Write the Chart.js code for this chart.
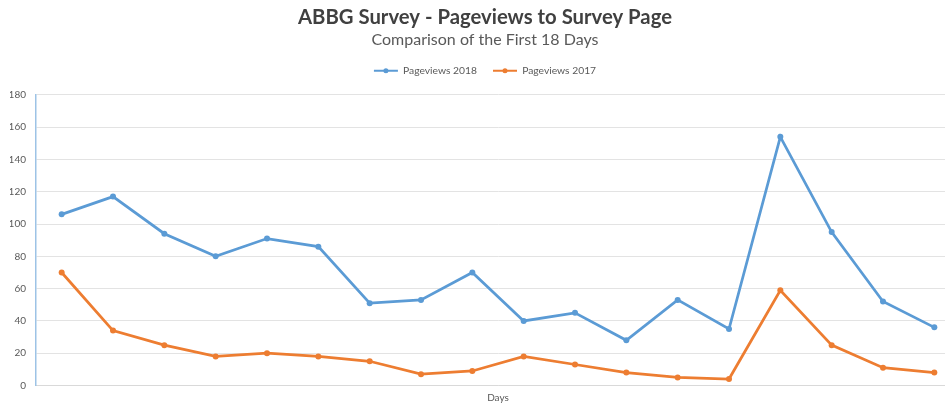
<!DOCTYPE html>
<html>
<head>
<meta charset="utf-8">
<script src="https://cdn.jsdelivr.net/npm/chart.js@4"></script>
<style>
html,body{margin:0;padding:0;background:#fff;overflow:hidden;width:945px;height:414px;}
#wrap{position:relative;width:970px;height:414px;}
</style>
</head>
<body>
<div id="wrap"><canvas id="c" width="970" height="414"></canvas></div>
<script>
const days = ["1","2","3","4","5","6","7","8","9","10","11","12","13","14","15","16","17","18"];
const pageviews2018 = [106,117,94,80,91,86,51,53,70,40,45,28,53,35,154,95,52,36];
const pageviews2017 = [70,34,25,18,20,18,15,7,9,18,13,8,5,4,59,25,11,8];
const titleText = "ABBG Survey - Pageviews to Survey Page";
const subtitleText = "Comparison of the First 18 Days";
const xTitle = "Days";

const FONT = "Lato, 'Open Sans', sans-serif";

const legendDots = {
  id: 'legendDots',
  beforeInit(chart) {
    const lg = chart.legend;
    if (!lg) return;
    const fit = lg.fit;
    lg.fit = function () { fit.call(this); this.height += 9; };
  },
  afterDraw(chart) {
    const lg = chart.legend;
    if (!lg || !lg.legendHitBoxes) return;
    const ctx = chart.ctx;
    lg.legendHitBoxes.forEach((hb, i) => {
      const ds = chart.data.datasets[i];
      const bw = lg.options.labels.boxWidth;
      const cx = hb.left + bw / 2;
      const cy = hb.top + hb.height / 2;
      ctx.save();
      ctx.fillStyle = ds.borderColor;
      ctx.beginPath();
      ctx.arc(cx, cy, 2.5, 0, Math.PI * 2);
      ctx.fill();
      ctx.restore();
    });
  }
};

new Chart(document.getElementById('c'), {
  type: 'line',
  data: {
    labels: days,
    datasets: [
      { label: 'Pageviews 2018', data: pageviews2018, borderColor: '#5B9BD5', backgroundColor: '#5B9BD5',
        borderWidth: 2.75, pointRadius: 3, pointBackgroundColor: '#5B9BD5', pointBorderWidth: 0, tension: 0 },
      { label: 'Pageviews 2017', data: pageviews2017, borderColor: '#ED7D31', backgroundColor: '#ED7D31',
        borderWidth: 2.75, pointRadius: 3, pointBackgroundColor: '#ED7D31', pointBorderWidth: 0, tension: 0 }
    ]
  },
  options: {
    responsive: false,
    animation: false,
    layout: { padding: { left: 10, right: 10, top: 3, bottom: 0 } },
    plugins: {
      title: { display: true, text: titleText, color: '#404040',
        font: { family: FONT, size: 20.3, weight: 'bold' }, padding: { top: 2, bottom: 1 } },
      subtitle: { display: true, text: subtitleText, color: '#595959',
        font: { family: FONT, size: 16 }, padding: { top: 0, bottom: 0 } },
      legend: {
        position: 'top',
        labels: {
          boxWidth: 24, boxHeight: 2, color: '#595959', padding: 16,
          font: { family: FONT, size: 10.3 },
          generateLabels(chart) {
            return Chart.defaults.plugins.legend.labels.generateLabels(chart).map(l => {
              l.lineWidth = 0; l.fillStyle = l.strokeStyle; return l;
            });
          }
        }
      },
      tooltip: { enabled: false }
    },
    scales: {
      x: {
        offset: true,
        grid: { display: false },
        border: { display: true, color: '#D9D9D9', width: 1 },
        ticks: { display: false },
        title: { display: true, text: xTitle, color: '#595959', font: { family: FONT, size: 10 }, padding: { top: 0, bottom: 10 } },
        afterFit(s) { s.height = 28.5; }
      },
      y: {
        min: 0, max: 180,
        ticks: { stepSize: 20, color: '#595959', font: { family: FONT, size: 10 }, padding: 10 },
        grid: { color: '#E3E3E3', drawTicks: false },
        border: { display: true, color: '#9DC3E6', width: 1.5 },
        afterFit(s) { s.width = 26; }
      }
    }
  },
  plugins: [legendDots]
});
</script>
</body>
</html>
